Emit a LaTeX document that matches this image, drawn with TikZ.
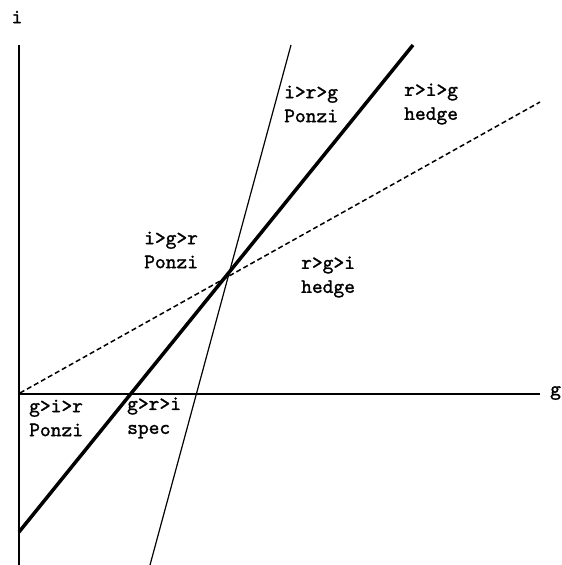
\documentclass[tikz,border=0pt]{standalone}
\usepackage{fontspec}
\newfontfamily\labfont[FakeBold=1.3]{lmmono10-regular.otf}
\begin{document}
\begin{tikzpicture}[x=1pt,y=-1pt,
  lab/.style={font=\labfont\fontsize{20.5}{24}\selectfont, align=left, inner sep=0pt, anchor=west},
  axlab/.style={font=\labfont\fontsize{20.5}{24}\selectfont, inner sep=0pt},
  axis/.style={line width=2pt},
  thickline/.style={line width=3.5pt},
  thinline/.style={line width=1.2pt},
  dashline/.style={line width=1.5pt, dash pattern=on 5pt off 3pt}]
\useasboundingbox (0,0) rectangle (562,565);
% axes
\coordinate (ytop) at (19,45);
\coordinate (ybot) at (19,565);
\coordinate (xl) at (19,394);
\coordinate (xr) at (540,394);
\draw[axis] (ybot) -- (ytop);
\draw[axis] (xl) -- (xr);
\node[axlab] (ilab) at (17,17) {i};
\node[axlab, anchor=west] (glab) at (550,393) {g};
% lines
\coordinate (a1) at (19,532);
\coordinate (a2) at (413,45);
\draw[thickline] (a1) -- (a2);
\coordinate (b1) at (150,565);
\coordinate (b2) at (291,45);
\draw[thinline] (b1) -- (b2);
\coordinate (c1) at (20,393);
\coordinate (c2) at (540,102);
\draw[dashline] (c1) -- (c2);
% labels
\node[lab] (l1) at (29,418) {g>i>r\\Ponzi};
\node[lab] (l2) at (127,418) {g>r>i\\spec};
\node[lab] (l3) at (144,250) {i>g>r\\Ponzi};
\node[lab] (l4) at (301,277) {r>g>i\\hedge};
\node[lab] (l5) at (284,104) {i>r>g\\Ponzi};
\node[lab] (l6) at (404,104) {r>i>g\\hedge};
\end{tikzpicture}
\end{document}
